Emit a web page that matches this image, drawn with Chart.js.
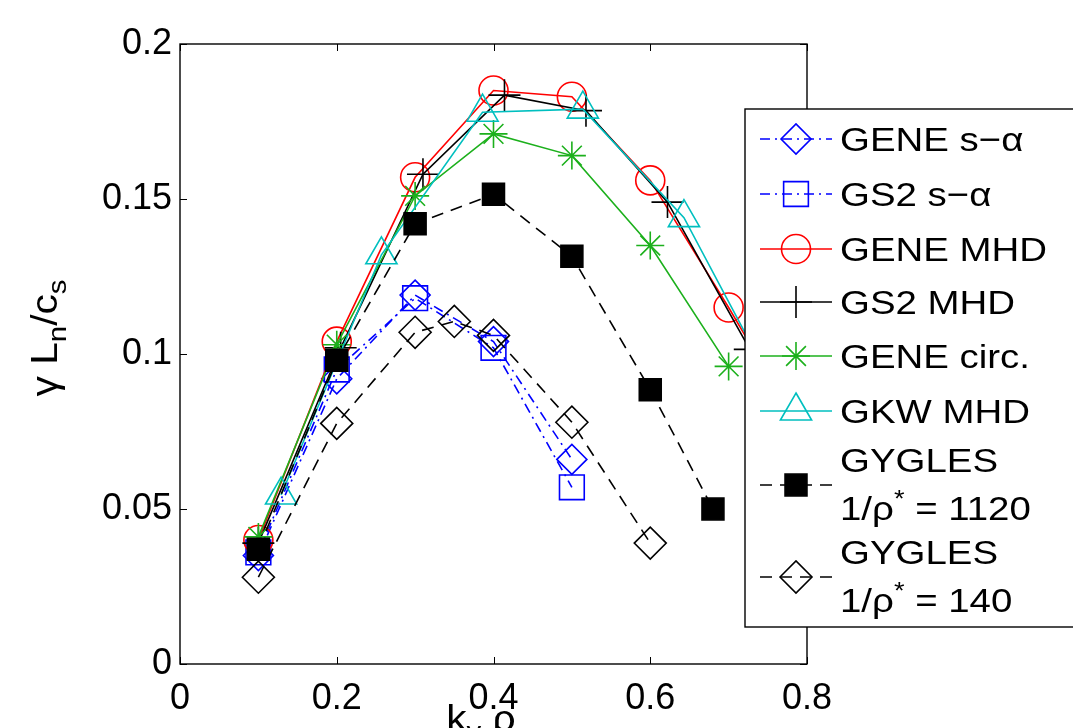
<!DOCTYPE html>
<html><head><meta charset="utf-8">
<script src="https://cdn.jsdelivr.net/npm/chart.js@4.4.1/dist/chart.umd.min.js"></script>
<style>html,body{margin:0;padding:0;background:#fff;}canvas{display:block;}</style>
</head><body>
<canvas id="c" width="1073" height="728"></canvas>
<script>
// ---- data ----
const xTickLabels = ['0', '0.2', '0.4', '0.6', '0.8'];
const yTickLabels = ['0', '0.05', '0.1', '0.15', '0.2'];

const kGeneSa = [0.1, 0.2, 0.3, 0.4, 0.5];
const gGeneSa = [0.035, 0.092, 0.119, 0.104, 0.066];

const kGs2Sa = [0.1, 0.2, 0.3, 0.4, 0.5];
const gGs2Sa = [0.036, 0.095, 0.118, 0.102, 0.057];

const kGeneMhd = [0.1, 0.2, 0.3, 0.4, 0.5, 0.6, 0.7, 0.8];
const gGeneMhd = [0.040, 0.104, 0.157, 0.185, 0.183, 0.156, 0.115, 0.072];

const kGs2Mhd = [0.1, 0.205, 0.31, 0.414, 0.518, 0.622, 0.727];
const gGs2Mhd = [0.039, 0.102, 0.158, 0.1835, 0.1785, 0.149, 0.1015];

const kGeneCirc = [0.1, 0.2, 0.3, 0.4, 0.5, 0.6, 0.7];
const gGeneCirc = [0.041, 0.103, 0.151, 0.171, 0.164, 0.135, 0.096];

const kGkwMhd = [0.129, 0.257, 0.386, 0.514, 0.643, 0.771];
const gGkwMhd = [0.0545, 0.132, 0.178, 0.179, 0.144, 0.083];

const kGyg1120 = [0.1, 0.2, 0.3, 0.4, 0.5, 0.6, 0.68];
const gGyg1120 = [0.037, 0.098, 0.142, 0.1515, 0.1315, 0.0885, 0.050];

const kGyg140 = [0.1, 0.2, 0.3, 0.35, 0.4, 0.5, 0.6];
const gGyg140 = [0.028, 0.0776, 0.107, 0.1105, 0.106, 0.078, 0.039];

const legendNames = [
  ['GENE s\u2212\u03b1'], ['GS2 s\u2212\u03b1'], ['GENE MHD'], ['GS2 MHD'],
  ['GENE circ.'], ['GKW MHD'], ['GYGLES', '1/\u03c1* = 1120'], ['GYGLES', '1/\u03c1* = 140']
];

// ---- styles ----
const FONT = '"Liberation Sans", Arial, Helvetica, sans-serif';
const BLUE = '#0000ff', RED = '#ff0000', BLACK = '#000000', GREEN = '#1cb01c', CYAN = '#00bfbf';
const DASHDOT = [10, 5, 2, 5], DASH = [12, 8];
const SX = 1.13; // horizontal stretch of the reference lettering

function pts(xs, ys) { return xs.map((v, i) => ({ x: v, y: ys[i] })); }

const styles = [
  { c: BLUE, ps: 'rectRot', r: 15, dash: DASHDOT, fill: false },
  { c: BLUE, ps: 'rect', r: 17.5, dash: DASHDOT, fill: false },
  { c: RED, ps: 'circle', r: 14.5, dash: [], fill: false },
  { c: BLACK, ps: 'cross', r: 16, dash: [], fill: false },
  { c: GREEN, ps: 'star', r: 14, dash: [], fill: false },
  { c: CYAN, ps: 'triangle', r: 18, dash: [], fill: false },
  { c: BLACK, ps: 'rect', r: 15.5, dash: DASH, fill: true },
  { c: BLACK, ps: 'rectRot', r: 16, dash: DASH, fill: false }
];
const series = [
  pts(kGeneSa, gGeneSa), pts(kGs2Sa, gGs2Sa), pts(kGeneMhd, gGeneMhd), pts(kGs2Mhd, gGs2Mhd),
  pts(kGeneCirc, gGeneCirc), pts(kGkwMhd, gGkwMhd), pts(kGyg1120, gGyg1120), pts(kGyg140, gGyg140)
];

const datasets = series.map((d, i) => ({
  label: legendNames[i].join(' '),
  data: d,
  showLine: true,
  borderColor: styles[i].c,
  borderWidth: 1.6,
  borderDash: styles[i].dash,
  pointStyle: styles[i].ps,
  pointRadius: styles[i].r,
  pointHoverRadius: styles[i].r,
  pointBorderWidth: 1.6,
  pointBorderColor: styles[i].c,
  pointBackgroundColor: styles[i].fill ? styles[i].c : 'rgba(0,0,0,0)',
  order: series.length - i,
  clip: 20,
  tension: 0
}));

function setFont(ctx, r, big) {
  const size = (r.sub || r.sup) ? Math.round(big * 0.72) : big;
  ctx.font = size + 'px ' + FONT;
}
function runsWidth(ctx, runs, big) {
  let w = 0;
  runs.forEach(r => { setFont(ctx, r, big); w += ctx.measureText(r.t).width; });
  return w * SX;
}
function drawRuns(ctx, runs, x, y, big) {
  ctx.save();
  ctx.translate(x, y);
  ctx.scale(SX, 1);
  let cx = 0;
  runs.forEach(r => {
    setFont(ctx, r, big);
    const dy = r.sub ? big * 0.24 : (r.sup ? -big * 0.38 : 0);
    ctx.fillText(r.t, cx, dy);
    cx += ctx.measureText(r.t).width;
  });
  ctx.restore();
}

const overlay = {
  id: 'overlay',
  afterDatasetsDraw(chart) {
    const ctx = chart.ctx, a = chart.chartArea, xs = chart.scales.x, ys = chart.scales.y;
    ctx.save();
    ctx.setLineDash([]);
    ctx.strokeStyle = '#000';
    ctx.lineWidth = 1.4;
    ctx.strokeRect(a.left, a.top, a.right - a.left, a.bottom - a.top);
    ctx.beginPath();
    xs.ticks.forEach(t => {
      const p = Math.round(xs.getPixelForValue(t.value)) + 0.5;
      ctx.moveTo(p, a.bottom); ctx.lineTo(p, a.bottom - 7);
      ctx.moveTo(p, a.top); ctx.lineTo(p, a.top + 7);
    });
    ys.ticks.forEach(t => {
      const p = Math.round(ys.getPixelForValue(t.value)) + 0.5;
      ctx.moveTo(a.left, p); ctx.lineTo(a.left + 7, p);
      ctx.moveTo(a.right, p); ctx.lineTo(a.right - 7, p);
    });
    ctx.lineWidth = 1;
    ctx.stroke();

    // legend box
    const L = 745, T = 109, B = 627;
    ctx.fillStyle = '#fff';
    ctx.fillRect(L, T, 400, B - T);
    ctx.lineWidth = 1.4;
    ctx.strokeStyle = '#000';
    ctx.strokeRect(L, T, 400, B - T);

    const rowY = [139, 194, 249, 302, 356, 411, 485, 577];
    ctx.fillStyle = '#000';
    ctx.textBaseline = 'alphabetic';
    ctx.textAlign = 'left';
    styles.forEach((s, i) => {
      const y = rowY[i];
      ctx.save();
      ctx.strokeStyle = s.c;
      ctx.lineWidth = 1.6;
      ctx.setLineDash(s.dash);
      ctx.beginPath();
      ctx.moveTo(760, y); ctx.lineTo(832, y);
      ctx.stroke();
      ctx.setLineDash([]);
      ctx.fillStyle = s.fill ? s.c : 'rgba(0,0,0,0)';
      ctx.strokeStyle = s.c;
      ctx.lineWidth = 1.6;
      Chart.helpers.drawPoint(ctx, { pointStyle: s.ps, radius: s.r, rotation: 0, borderWidth: 1.6 }, 796, y);
      ctx.restore();
      ctx.fillStyle = '#000';
      const lines = legendNames[i];
      if (lines.length === 1) {
        drawRuns(ctx, [{ t: lines[0] }], 840, y + 12, 34);
      } else {
        drawRuns(ctx, [{ t: lines[0] }], 840, y - 13, 34);
        const parts = lines[1].split('*');
        drawRuns(ctx, [{ t: parts[0] }, { t: '*', sup: true }, { t: parts[1] }], 840, y + 35, 34);
      }
    });

    // axis titles
    ctx.fillStyle = '#000';
    const yRuns = [{ t: '\u03b3 L' }, { t: 'n', sub: true }, { t: '/c' }, { t: 's', sub: true }];
    const wy = runsWidth(ctx, yRuns, 36);
    ctx.save();
    ctx.translate(57, 338);
    ctx.rotate(-Math.PI / 2);
    drawRuns(ctx, yRuns, -wy / 2, 0, 36);
    ctx.restore();
    const xRuns = [{ t: 'k' }, { t: 'y', sub: true }, { t: ' \u03c1' }];
    const wx = runsWidth(ctx, xRuns, 36);
    drawRuns(ctx, xRuns, 481 - wx / 2, 731, 36);
    ctx.restore();
  }
};

Chart.defaults.font.family = FONT;
new Chart(document.getElementById('c'), {
  type: 'scatter',
  data: { datasets },
  options: {
    responsive: false,
    animation: false,
    events: [],
    layout: { padding: { top: 44, right: 266, left: 0, bottom: 0 } },
    plugins: { legend: { display: false }, tooltip: { enabled: false } },
    scales: {
      x: {
        type: 'linear', min: 0, max: 0.8,
        grid: { display: false, drawTicks: false },
        border: { display: false },
        ticks: { stepSize: 0.2, padding: 13, color: '#000', font: { size: 36 },
          callback: (v, i) => xTickLabels[i] },
        afterFit: s => { s.height = 64; }
      },
      y: {
        type: 'linear', min: 0, max: 0.2,
        grid: { display: false, drawTicks: false },
        border: { display: false },
        ticks: { stepSize: 0.05, padding: 8, color: '#000', font: { size: 36 },
          callback: (v, i) => yTickLabels[i] },
        afterFit: s => { s.width = 180; }
      }
    }
  },
  plugins: [overlay]
});
</script>
</body></html>
